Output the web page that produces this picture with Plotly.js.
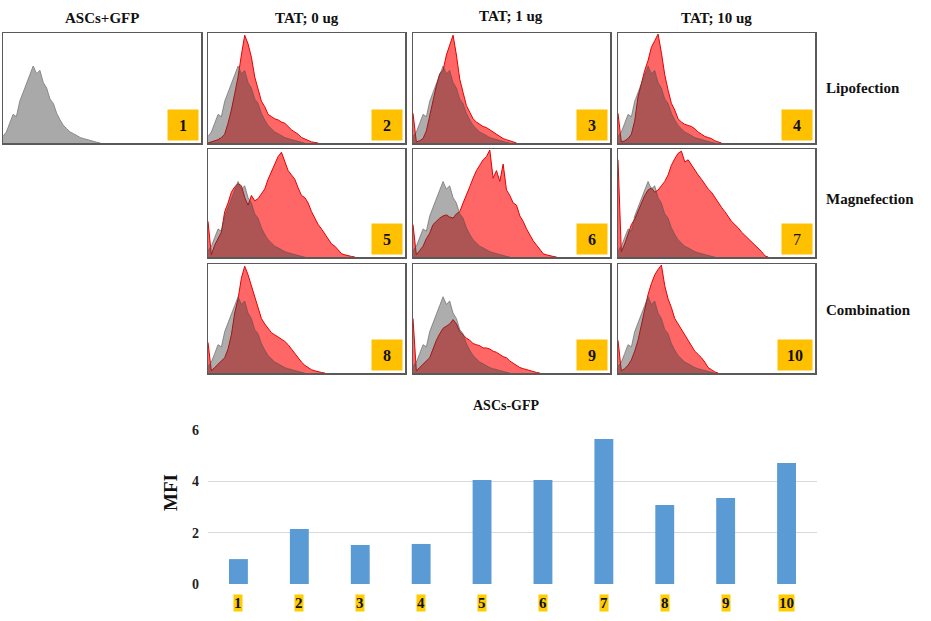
<!DOCTYPE html>
<html>
<head>
<meta charset="utf-8">
<script src="https://cdn.plot.ly/plotly-3.0.1.min.js"></script>
<style>html,body{margin:0;padding:0;background:#fff;}#chart{width:931px;height:621px;}</style>
</head>
<body>
<div id="chart"></div>
<script>
// ---------- DATA ----------
// Histogram heights (fraction of panel height) per channel bin
const controlGFP = [0.06,0.10,0.18,0.26,0.24,0.38,0.46,0.55,0.62,0.70,0.63,0.66,0.55,0.50,0.40,0.36,0.27,0.21,0.16,0.13,0.10,0.085,0.065,0.05,0.04,0.03,0.02,0.012,0.006,0];
const lipo0ug  = [0.0,0.01,0.02,0.03,0.05,0.08,0.18,0.30,0.45,0.60,0.80,0.98,0.90,0.78,0.60,0.50,0.38,0.33,0.26,0.24,0.22,0.21,0.19,0.18,0.15,0.12,0.10,0.08,0.05,0.035,0.02,0.01,0.005,0];
const lipo1ug  = [0.27,0.01,0.02,0.04,0.11,0.25,0.39,0.52,0.63,0.66,0.80,0.90,0.98,0.80,0.58,0.46,0.34,0.28,0.22,0.19,0.17,0.15,0.14,0.12,0.10,0.08,0.06,0.04,0.03,0.02,0.01,0];
const lipo10ug = [0.27,0.01,0.02,0.04,0.08,0.20,0.42,0.55,0.66,0.75,0.87,0.93,0.99,0.82,0.62,0.48,0.36,0.30,0.22,0.19,0.17,0.16,0.15,0.13,0.10,0.08,0.06,0.05,0.04,0.02,0.01,0];
const magne0ug = [0.33,0.02,0.11,0.17,0.23,0.42,0.50,0.60,0.65,0.68,0.66,0.55,0.48,0.57,0.52,0.54,0.58,0.63,0.72,0.79,0.86,0.93,0.97,0.88,0.80,0.76,0.72,0.64,0.57,0.55,0.50,0.42,0.36,0.30,0.26,0.21,0.16,0.12,0.10,0.06,0.03,0.02,0.01,0.005,0];
const magne1ug = [0.30,0.02,0.06,0.10,0.17,0.22,0.30,0.33,0.36,0.38,0.39,0.37,0.36,0.40,0.42,0.50,0.57,0.65,0.73,0.80,0.85,0.90,0.93,0.99,0.73,0.80,0.70,0.86,0.62,0.57,0.50,0.48,0.38,0.33,0.26,0.20,0.15,0.11,0.07,0.03,0.02,0.01,0.005,0];
const magne10ug= [0.90,0.05,0.12,0.22,0.30,0.35,0.42,0.50,0.57,0.62,0.64,0.60,0.62,0.66,0.70,0.76,0.85,0.91,0.96,0.98,0.88,0.90,0.85,0.80,0.76,0.72,0.67,0.63,0.60,0.55,0.51,0.46,0.42,0.37,0.33,0.30,0.27,0.23,0.20,0.17,0.14,0.11,0.08,0.05,0.01,0];
const comb0ug  = [0.28,0.02,0.05,0.08,0.11,0.14,0.22,0.35,0.55,0.68,0.87,0.98,0.90,0.80,0.68,0.60,0.50,0.45,0.41,0.37,0.35,0.33,0.31,0.29,0.26,0.22,0.17,0.13,0.10,0.07,0.05,0.03,0.02,0.01,0.005,0];
const comb1ug  = [0.50,0.02,0.05,0.08,0.11,0.14,0.22,0.30,0.36,0.41,0.43,0.45,0.49,0.45,0.38,0.35,0.32,0.30,0.27,0.26,0.25,0.23,0.23,0.22,0.20,0.19,0.17,0.15,0.14,0.11,0.09,0.07,0.05,0.04,0.03,0.02,0.015,0.005,0];
const comb10ug = [0.30,0.02,0.04,0.07,0.12,0.20,0.30,0.45,0.58,0.72,0.82,0.90,0.95,0.99,0.80,0.68,0.60,0.50,0.45,0.40,0.36,0.30,0.25,0.20,0.17,0.14,0.10,0.05,0.03,0.01,0];

const panelNumbers = ["1","2","3","4","5","6","7","8","9","10"];
const columnTitles = ["ASCs+GFP","TAT; 0 ug","TAT; 1 ug","TAT; 10 ug"];
const rowTitles = ["Lipofection","Magnefection","Combination"];

// Bar chart
const barCategories = ["1","2","3","4","5","6","7","8","9","10"];
const mfiValues = [0.97,2.14,1.52,1.56,4.05,4.05,5.65,3.08,3.35,4.71];
const mfiTicks = [0,2,4,6];

// ---------- LAYOUT ----------
const W = 931, H = 621;
const fx = p => p / W;
const fy = p => 1 - p / H;
const serif = "Liberation Serif, Times New Roman, serif";

const cols = [[3,201],[208,405],[413,610],[618,815]];
const rows = [[33,143],[149,257],[264,373]];
// panel index -> [row, col, red series]
const panels = [
  [0,0,null],
  [0,1,lipo0ug],[0,2,lipo1ug],[0,3,lipo10ug],
  [1,1,magne0ug],[1,2,magne1ug],[1,3,magne10ug],
  [2,1,comb0ug],[2,2,comb1ug],[2,3,comb10ug]
];

const traces = [];
const layout = {
  width: W, height: H,
  margin: {l:0,r:0,t:0,b:0},
  paper_bgcolor: "#fff", plot_bgcolor: "rgba(0,0,0,0)",
  showlegend: false,
  annotations: [], shapes: []
};

panels.forEach((p, k) => {
  const n = k + 1;
  const [r, c, red] = p;
  const xa = "xaxis" + n, ya = "yaxis" + n;
  const xs = "x" + n, ys = "y" + n;
  layout[xa] = {domain:[fx(cols[c][0]), fx(cols[c][1])], range:[0,59], anchor: ys,
    showgrid:false, zeroline:false, showticklabels:false, ticks:"",
    showline:true, mirror:true, linecolor:"#5a5a5a", linewidth:1.5};
  layout[ya] = {domain:[fy(rows[r][1]), fy(rows[r][0])], range:[0,1.0], anchor: xs,
    showgrid:false, zeroline:false, showticklabels:false, ticks:"",
    showline:true, mirror:true, linecolor:"#5a5a5a", linewidth:1.5};
  if (red) {
    traces.push({y: red, xaxis: xs, yaxis: ys, type:"scatter", mode:"lines",
      fill:"tozeroy", fillcolor:"rgba(255,0,0,0.6)", line:{color:"#e60000", width:1}, hoverinfo:"skip"});
    traces.push({y: controlGFP, xaxis: xs, yaxis: ys, type:"scatter", mode:"lines",
      fill:"tozeroy", fillcolor:"rgba(60,60,60,0.42)", line:{color:"rgba(80,80,80,0.7)", width:0.8}, hoverinfo:"skip"});
  } else {
    traces.push({y: controlGFP, xaxis: xs, yaxis: ys, type:"scatter", mode:"lines",
      fill:"tozeroy", fillcolor:"#a9a9a9", line:{color:"#8a8a8a", width:1}, hoverinfo:"skip"});
  }
  const label = panelNumbers[k];
  layout.annotations.push({xref: xs + " domain", yref: ys + " domain", x:1, y:0,
    xanchor:"right", yanchor:"bottom", xshift:-2, yshift:2,
    width: label.length > 1 ? 34 : 30, height: 30, bgcolor:"#FFC000", borderpad:0,
    text: label, showarrow:false,
    font:{family:serif, size:16, color:"#111", weight: label === "7" ? "normal" : "bold"}});
});

// column titles
const colTitleY = [18, 18, 16, 18];
columnTitles.forEach((t, i) => {
  layout.annotations.push({xref:"paper", yref:"paper", x: fx((cols[i][0]+cols[i][1])/2), y: fy(colTitleY[i]),
    xanchor:"center", yanchor:"middle", text:t, showarrow:false,
    font:{family:serif, size:15, color:"#111", weight:"bold"}});
});
// row titles
const rowTitleY = [88, 199, 310];
rowTitles.forEach((t, i) => {
  layout.annotations.push({xref:"paper", yref:"paper", x: fx(824), y: fy(rowTitleY[i]),
    xanchor:"left", yanchor:"middle", text:t, showarrow:false,
    font:{family:serif, size:15, color:"#111", weight:"bold"}});
});

// bar chart
traces.push({type:"bar", x: barCategories, y: mfiValues, xaxis:"x11", yaxis:"y11",
  marker:{color:"#5B9BD5"}, hoverinfo:"skip"});
layout.xaxis11 = {domain:[fx(208), fx(817)], anchor:"y11", type:"category",
  range:[-0.5, barCategories.length - 0.5],
  showgrid:false, zeroline:false, showline:false, ticks:"", showticklabels:false};
layout.yaxis11 = {domain:[fy(584), fy(430)], anchor:"x11", range:[0,6], tickvals: mfiTicks,
  showgrid:true, gridcolor:"#d9d9d9", gridwidth:1, zeroline:false, showline:false, ticks:"",
  ticklabelstandoff: 8,
  tickfont:{family:serif, size:14, color:"#222", weight:"bold"}};
layout.bargap = 0.69;
layout.annotations.push({xref:"paper", yref:"paper", x: fx(507), y: fy(405), xanchor:"center", yanchor:"middle",
  text:"ASCs-GFP", showarrow:false, font:{family:serif, size:14, color:"#111", weight:"bold"}});
layout.annotations.push({xref:"paper", yref:"paper", x: fx(170), y: fy(493), xanchor:"center", yanchor:"middle",
  text:"MFI", textangle:-90, showarrow:false, font:{family:serif, size:19, color:"#111", weight:"bold"}});
barCategories.forEach((c, i) => {
  layout.annotations.push({xref:"x11", yref:"paper", x: i, y: fy(603), xanchor:"center", yanchor:"middle",
    text: c, showarrow:false, bgcolor:"#FFCC00", borderpad:0,
    font:{family:serif, size:15, color:"#111", weight:"bold"}});
});

Plotly.newPlot("chart", traces, layout, {staticPlot:true, displayModeBar:false});
</script>
</body>
</html>
